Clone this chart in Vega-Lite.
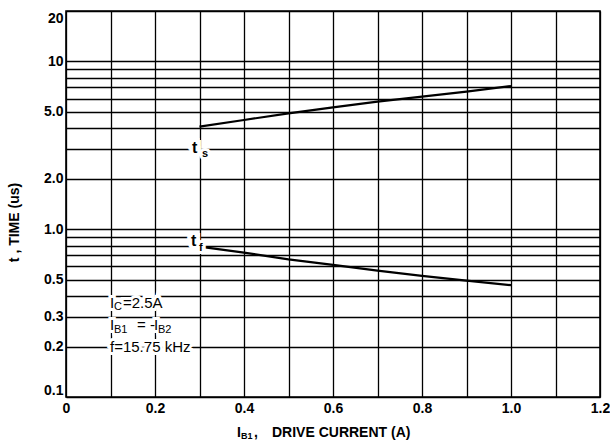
{
  "$schema": "https://vega.github.io/schema/vega-lite/v6.json",
  "width": 534,
  "height": 386,
  "autosize": {"type": "none"},
  "padding": {"left": 66, "top": 11, "right": 10, "bottom": 50},
  "background": "white",
  "config": {
    "font": "Liberation Sans",
    "view": {"stroke": "#000", "strokeWidth": 1.6}
  },
  "datasets": {
    "curves": [
      {"series": "ts", "x": 0.3, "y": 4.09},
      {"series": "ts", "x": 0.4, "y": 4.48},
      {"series": "ts", "x": 0.5, "y": 4.91},
      {"series": "ts", "x": 0.6, "y": 5.33},
      {"series": "ts", "x": 0.7, "y": 5.76},
      {"series": "ts", "x": 0.8, "y": 6.17},
      {"series": "ts", "x": 0.9, "y": 6.61},
      {"series": "ts", "x": 1.0, "y": 7.14},
      {"series": "tf", "x": 0.3, "y": 0.788},
      {"series": "tf", "x": 0.4, "y": 0.725},
      {"series": "tf", "x": 0.5, "y": 0.662},
      {"series": "tf", "x": 0.6, "y": 0.613},
      {"series": "tf", "x": 0.7, "y": 0.567},
      {"series": "tf", "x": 0.8, "y": 0.527},
      {"series": "tf", "x": 0.9, "y": 0.494},
      {"series": "tf", "x": 1.0, "y": 0.464}
    ],
    "notes": [
      {"x": 0.0989, "y": 0.363, "text": "I", "kind": "ann"},
      {"x": 0.1079, "y": 0.343, "text": "C", "kind": "annsub"},
      {"x": 0.1281, "y": 0.363, "text": "=2.5A", "kind": "ann"},
      {"x": 0.0989, "y": 0.2685, "text": "I", "kind": "ann"},
      {"x": 0.1079, "y": 0.2507, "text": "B1", "kind": "annsub"},
      {"x": 0.1596, "y": 0.2685, "text": "= -", "kind": "ann"},
      {"x": 0.1978, "y": 0.2685, "text": "I", "kind": "ann"},
      {"x": 0.2067, "y": 0.2507, "text": "B2", "kind": "annsub"},
      {"x": 0.0989, "y": 0.2, "text": "f=15.75 kHz", "kind": "ann"},
      {"x": 0.2831, "y": 3.05, "text": "t", "kind": "tl"},
      {"x": 0.3056, "y": 2.81, "text": "s", "kind": "tlsub"},
      {"x": 0.2809, "y": 0.852, "text": "t", "kind": "tl"},
      {"x": 0.2989, "y": 0.774, "text": "f", "kind": "tlsub"},
      {"x": 0.3843, "y": 0.061, "text": "I", "kind": "xt"},
      {"x": 0.3933, "y": 0.0586, "text": "B1", "kind": "xtsub"},
      {"x": 0.4225, "y": 0.061, "text": ",", "kind": "xt"},
      {"x": 0.4629, "y": 0.061, "text": "DRIVE CURRENT (A)", "kind": "xt"}
    ]
  },
  "encoding": {
    "x": {
      "field": "x",
      "type": "quantitative",
      "scale": {"domain": [0, 1.2], "nice": false, "zero": false},
      "axis": {
        "values": [0, 0.1, 0.2, 0.3, 0.4, 0.5, 0.6, 0.7, 0.8, 0.9, 1.0, 1.1, 1.2],
        "labelExpr": "round(datum.value*10)%2==0 ? (datum.value==0 ? '0' : format(datum.value, '.1f')) : ''",
        "labelOverlap": false,
        "labelFlush": false,
        "ticks": false,
        "domain": false,
        "grid": true,
        "gridColor": "#000",
        "gridOpacity": 1,
        "gridWidth": 1.3,
        "labelFont": "Liberation Sans",
        "labelFontWeight": "bold",
        "labelFontSize": 14,
        "labelColor": "#000",
        "labelPadding": 4,
        "title": null
      }
    },
    "y": {
      "field": "y",
      "type": "quantitative",
      "scale": {"type": "log", "domain": [0.1, 20], "nice": false},
      "axis": {
        "values": [0.1, 0.2, 0.3, 0.4, 0.5, 0.6, 0.7, 0.8, 0.9, 1, 2, 3, 4, 5, 6, 7, 8, 9, 10, 20],
        "labelExpr": "datum.value >= 10 ? format(datum.value, 'd') : (indexof([0.1, 0.2, 0.3, 0.5, 1, 2, 5], datum.value) >= 0 ? format(datum.value, '.1f') : '')",
        "labelOverlap": false,
        "labelFlush": true,
        "ticks": false,
        "domain": false,
        "grid": true,
        "gridColor": "#000",
        "gridOpacity": 1,
        "gridWidth": 1.3,
        "labelFont": "Liberation Sans",
        "labelFontWeight": "bold",
        "labelFontSize": 14,
        "labelColor": "#000",
        "labelPadding": 3,
        "title": "t , TIME (us)",
        "titleFont": "Liberation Sans",
        "titleFontWeight": "bold",
        "titleFontSize": 14,
        "titleColor": "#000",
        "titlePadding": 22,
        "titleY": 211
      }
    }
  },
  "layer": [
    {
      "data": {"name": "curves"},
      "mark": {"type": "line", "color": "#000", "strokeWidth": 2.2},
      "encoding": {"detail": {"field": "series"}}
    },
    {
      "data": {"name": "notes"},
      "transform": [{"filter": "datum.kind == 'ann'"}],
      "mark": {"type": "text", "align": "left", "baseline": "middle", "font": "Liberation Sans", "fontSize": 15, "fill": "white", "stroke": "white", "strokeWidth": 6},
      "encoding": {"text": {"field": "text"}}
    },
    {
      "data": {"name": "notes"},
      "transform": [{"filter": "datum.kind == 'annsub'"}],
      "mark": {"type": "text", "align": "left", "baseline": "middle", "font": "Liberation Sans", "fontSize": 11, "fill": "white", "stroke": "white", "strokeWidth": 5},
      "encoding": {"text": {"field": "text"}}
    },
    {
      "data": {"name": "notes"},
      "transform": [{"filter": "datum.kind == 'tl'"}],
      "mark": {"type": "text", "align": "left", "baseline": "middle", "font": "Liberation Sans", "fontWeight": "bold", "fontSize": 16, "fill": "white", "stroke": "white", "strokeWidth": 8},
      "encoding": {"text": {"field": "text"}}
    },
    {
      "data": {"name": "notes"},
      "transform": [{"filter": "datum.kind == 'tlsub'"}],
      "mark": {"type": "text", "align": "left", "baseline": "middle", "font": "Liberation Sans", "fontWeight": "bold", "fontSize": 11, "fill": "white", "stroke": "white", "strokeWidth": 6},
      "encoding": {"text": {"field": "text"}}
    },
    {
      "data": {"name": "notes"},
      "transform": [{"filter": "datum.kind == 'ann'"}],
      "mark": {"type": "text", "align": "left", "baseline": "middle", "font": "Liberation Sans", "fontSize": 15, "color": "#000"},
      "encoding": {"text": {"field": "text"}}
    },
    {
      "data": {"name": "notes"},
      "transform": [{"filter": "datum.kind == 'annsub'"}],
      "mark": {"type": "text", "align": "left", "baseline": "middle", "font": "Liberation Sans", "fontSize": 11, "color": "#000"},
      "encoding": {"text": {"field": "text"}}
    },
    {
      "data": {"name": "notes"},
      "transform": [{"filter": "datum.kind == 'tl'"}],
      "mark": {"type": "text", "align": "left", "baseline": "middle", "font": "Liberation Sans", "fontWeight": "bold", "fontSize": 16, "color": "#000"},
      "encoding": {"text": {"field": "text"}}
    },
    {
      "data": {"name": "notes"},
      "transform": [{"filter": "datum.kind == 'tlsub'"}],
      "mark": {"type": "text", "align": "left", "baseline": "middle", "font": "Liberation Sans", "fontWeight": "bold", "fontSize": 11, "color": "#000"},
      "encoding": {"text": {"field": "text"}}
    },
    {
      "data": {"name": "notes"},
      "transform": [{"filter": "datum.kind == 'xt'"}],
      "mark": {"type": "text", "align": "left", "baseline": "middle", "font": "Liberation Sans", "fontWeight": "bold", "fontSize": 14, "color": "#000"},
      "encoding": {"text": {"field": "text"}}
    },
    {
      "data": {"name": "notes"},
      "transform": [{"filter": "datum.kind == 'xtsub'"}],
      "mark": {"type": "text", "align": "left", "baseline": "middle", "font": "Liberation Sans", "fontWeight": "bold", "fontSize": 9, "color": "#000"},
      "encoding": {"text": {"field": "text"}}
    }
  ]
}
